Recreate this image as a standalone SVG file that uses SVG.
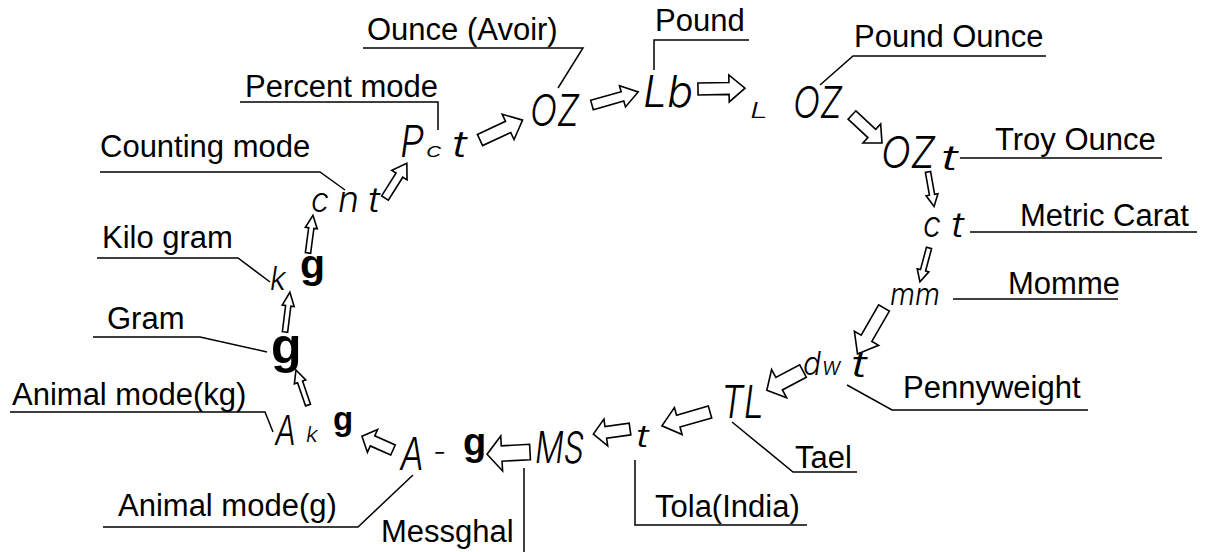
<svg xmlns="http://www.w3.org/2000/svg" xmlns:xlink="http://www.w3.org/1999/xlink" width="1205" height="552" viewBox="0 0 1205 552">
<style>
.lbl{font-family:"Liberation Sans",Arial,sans-serif;font-size:31px;fill:#000}
.seg text{font-family:Inter,"DejaVu Sans",sans-serif;font-style:italic;font-weight:300;fill:#000}
.seg text.bg,.bg{font-family:"Liberation Sans",Arial,sans-serif;font-style:normal;font-weight:bold;fill:#000}
.ld{fill:none;stroke:#000;stroke-width:1.5}
.arp{fill:#fff;stroke:#000;stroke-width:1.6;vector-effect:non-scaling-stroke;stroke-linejoin:miter}
</style>
<defs>
<path id="arr" class="arp" d="M0,-0.22 L0.66,-0.22 L0.66,-0.5 L1,0 L0.66,0.5 L0.66,0.22 L0,0.22 Z"/>
</defs>
<rect width="1205" height="552" fill="#fff"/>

<g id="connectors">
<g id="leaders" class="ld">
<polyline points="363,48 583,48 558,88"/>
<polyline points="654,70 654,40 749,40"/>
<polyline points="820,85 853,56 1046,56"/>
<polyline points="960,158 1162,158"/>
<polyline points="970,232 1197,232"/>
<polyline points="953,299 1118,299"/>
<polyline points="847,385 892,410 1088,410"/>
<polyline points="732,422 793,472 857,472"/>
<polyline points="635,460 635,525 807,525"/>
<polyline points="524,468 524,552"/>
<polyline points="413,475 358,527 103,527"/>
<polyline points="273,432 265,412 10,412"/>
<polyline points="267,352 200,337 93,337"/>
<polyline points="270,282 238,258 97,258"/>
<polyline points="345,190 320,172 100,172"/>
<polyline points="438,130 438,102 240,102"/>
</g>
<g id="arrows">
<use xlink:href="#arr" transform="translate(385,198) rotate(-57.8) scale(41,18)"/>
<use xlink:href="#arr" transform="translate(480,140) rotate(-25) scale(47,28)"/>
<use xlink:href="#arr" transform="translate(592,105) rotate(-15.8) scale(48,22)"/>
<use xlink:href="#arr" transform="translate(698,89) rotate(-1) scale(47,27)"/>
<use xlink:href="#arr" transform="translate(852,115) rotate(43) scale(41,26)"/>
<use xlink:href="#arr" transform="translate(928,172) rotate(80) scale(35,12)"/>
<use xlink:href="#arr" transform="translate(929,248) rotate(105) scale(35,12)"/>
<use xlink:href="#arr" transform="translate(884,308) rotate(120) scale(53,28)"/>
<use xlink:href="#arr" transform="translate(803,371) rotate(152) scale(41,32)"/>
<use xlink:href="#arr" transform="translate(710,412) rotate(164) scale(50,28)"/>
<use xlink:href="#arr" transform="translate(630,429) rotate(172) scale(37,27)"/>
<use xlink:href="#arr" transform="translate(530,452) rotate(177) scale(43,35)"/>
<use xlink:href="#arr" transform="translate(393,450) rotate(204) scale(34,25)"/>
<use xlink:href="#arr" transform="translate(308,405) rotate(251) scale(37,12)"/>
<use xlink:href="#arr" transform="translate(285,332) rotate(-83) scale(40,12)"/>
<use xlink:href="#arr" transform="translate(308,253) rotate(-82.5) scale(38,12)"/>
</g>
</g>

<g id="labels">
<text class="lbl" x="367" y="40">Ounce (Avoir)</text>
<text class="lbl" x="655" y="31">Pound</text>
<text class="lbl" x="854" y="47">Pound Ounce</text>
<text class="lbl" x="995" y="150">Troy Ounce</text>
<text class="lbl" x="1020" y="226">Metric Carat</text>
<text class="lbl" x="1008" y="294">Momme</text>
<text class="lbl" x="903" y="398">Pennyweight</text>
<text class="lbl" x="795" y="468">Tael</text>
<text class="lbl" x="655" y="517">Tola(India)</text>
<text class="lbl" x="381" y="542">Messghal</text>
<text class="lbl" x="118" y="516">Animal mode(g)</text>
<text class="lbl" x="12" y="405">Animal mode(kg)</text>
<text class="lbl" x="107" y="329">Gram</text>
<text class="lbl" x="102" y="248">Kilo gram</text>
<text class="lbl" x="100" y="157">Counting mode</text>
<text class="lbl" x="245" y="97">Percent mode</text>
</g>

<g id="n-pct" class="seg">
<text x="400" y="157" font-size="44" textLength="24" lengthAdjust="spacingAndGlyphs">P</text>
<text x="426" y="157" font-size="20" textLength="16" lengthAdjust="spacingAndGlyphs">c</text>
<text x="452" y="157" font-size="37" textLength="15" lengthAdjust="spacingAndGlyphs">t</text>
</g>
<g id="n-oz" class="seg">
<text x="530" y="126" font-size="44" textLength="49" lengthAdjust="spacingAndGlyphs">OZ</text>
</g>
<g id="n-lb" class="seg">
<text x="643" y="107" font-size="44" textLength="50" lengthAdjust="spacingAndGlyphs">Lb</text>
</g>
<g id="n-loz" class="seg">
<text x="750" y="118" font-size="22" textLength="18" lengthAdjust="spacingAndGlyphs">L</text>
<text x="793" y="118" font-size="43" textLength="49" lengthAdjust="spacingAndGlyphs">OZ</text>
</g>
<g id="n-ozt" class="seg">
<text x="881" y="168" font-size="44" textLength="54" lengthAdjust="spacingAndGlyphs">OZ</text>
<text x="941" y="170" font-size="34" textLength="17" lengthAdjust="spacingAndGlyphs">t</text>
</g>
<g id="n-ct" class="seg">
<text x="923" y="237" font-size="37" textLength="18" lengthAdjust="spacingAndGlyphs">c</text>
<text x="951" y="237" font-size="34" textLength="13" lengthAdjust="spacingAndGlyphs">t</text>
</g>
<g id="n-mm" class="seg">
<text x="890" y="305" font-size="31" textLength="50" lengthAdjust="spacingAndGlyphs">mm</text>
</g>
<g id="n-dwt" class="seg">
<text x="803" y="375" font-size="33" textLength="18" lengthAdjust="spacingAndGlyphs">d</text>
<text x="822" y="375" font-size="24" textLength="19" lengthAdjust="spacingAndGlyphs">w</text>
<text x="851" y="377" font-size="37" textLength="16" lengthAdjust="spacingAndGlyphs">t</text>
</g>
<g id="n-tl" class="seg">
<text x="721" y="418" font-size="45" textLength="43" lengthAdjust="spacingAndGlyphs">TL</text>
</g>
<g id="n-t" class="seg">
<text x="636" y="447" font-size="31" textLength="13" lengthAdjust="spacingAndGlyphs">t</text>
</g>
<g id="n-ms" class="seg">
<text x="535" y="463" font-size="43" textLength="49" lengthAdjust="spacingAndGlyphs">MS</text>
</g>
<g id="n-ag" class="seg">
<text x="400" y="470" font-size="45" textLength="24" lengthAdjust="spacingAndGlyphs">A</text>
<text x="433" y="462" font-size="30" textLength="13" lengthAdjust="spacingAndGlyphs">-</text>
<text class="bg" x="463" y="455" font-size="38">g</text>
</g>
<g id="n-akg" class="seg">
<text x="275" y="445" font-size="41" textLength="21" lengthAdjust="spacingAndGlyphs">A</text>
<text x="306" y="442" font-size="22" textLength="12" lengthAdjust="spacingAndGlyphs">k</text>
<text class="bg" x="333" y="430" font-size="33">g</text>
</g>
<g id="n-g">
<text class="bg" x="271" y="363" font-size="50">g</text>
</g>
<g id="n-kg" class="seg">
<text x="270" y="290" font-size="33" textLength="16" lengthAdjust="spacingAndGlyphs">k</text>
<text class="bg" x="300" y="278" font-size="41">g</text>
</g>
<g id="n-cnt" class="seg">
<text x="311" y="212" font-size="35" textLength="18" lengthAdjust="spacingAndGlyphs">c</text>
<text x="338" y="212" font-size="37" textLength="21" lengthAdjust="spacingAndGlyphs">n</text>
<text x="368" y="212" font-size="34" textLength="12" lengthAdjust="spacingAndGlyphs">t</text>
</g>
</svg>
